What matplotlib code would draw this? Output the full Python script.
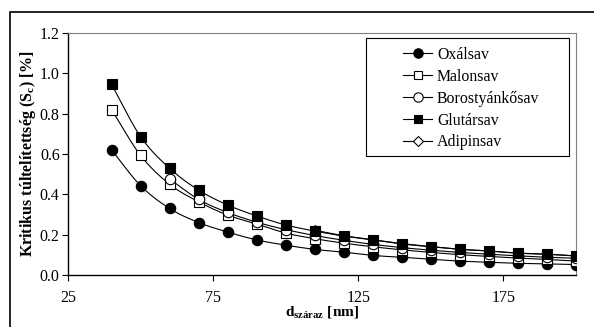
import numpy as np
import matplotlib
matplotlib.use("Agg")
import matplotlib.pyplot as plt
from matplotlib.patches import Rectangle

plt.rcParams['font.family'] = ['Liberation Serif', 'DejaVu Serif']
plt.rcParams['mathtext.fontset'] = 'custom'
plt.rcParams['mathtext.rm'] = 'Liberation Serif'
plt.rcParams['mathtext.bf'] = 'Liberation Serif:bold'

d = [40, 50, 60, 70, 80, 90, 100, 110, 120, 130, 140, 150, 160, 170, 180, 190, 200]
d_boros = d[2:]
d_adip = d[7:]

oxal = [0.62, 0.443, 0.33, 0.26, 0.213, 0.174, 0.148, 0.127, 0.113, 0.097, 0.088,
        0.078, 0.069, 0.063, 0.058, 0.055, 0.052]
malon = [0.82, 0.593, 0.45, 0.363, 0.297, 0.253, 0.208, 0.18, 0.158, 0.14, 0.125,
         0.112, 0.101, 0.092, 0.084, 0.077, 0.069]
boros = [0.476, 0.375, 0.31, 0.262, 0.225, 0.196, 0.172, 0.152, 0.136, 0.123,
         0.112, 0.103, 0.095, 0.088, 0.083]
glut = [0.945, 0.686, 0.529, 0.421, 0.347, 0.293, 0.248, 0.218, 0.193, 0.174, 0.154,
        0.14, 0.127, 0.119, 0.108, 0.103, 0.095]
adip = [0.222, 0.195, 0.175, 0.156, 0.141, 0.128, 0.119, 0.109, 0.103, 0.094]

labels = ["Oxálsav", "Malonsav", "Borostyánkősav", "Glutársav", "Adipinsav"]
x_ticks = [25, 75, 125, 175]
y_ticks = [0.0, 0.2, 0.4, 0.6, 0.8, 1.0, 1.2]


def smooth(x, y, n=12):
    # Catmull-Rom curve through the points, like Excel's smoothed line
    x = np.asarray(x, float)
    y = np.asarray(y, float)
    px = np.concatenate([[2 * x[0] - x[1]], x, [2 * x[-1] - x[-2]]])
    py = np.concatenate([[2 * y[0] - y[1]], y, [2 * y[-1] - y[-2]]])
    xs, ys = [], []
    t = np.linspace(0, 1, n, endpoint=False)
    for i in range(1, len(px) - 2):
        for p, out in ((px, xs), (py, ys)):
            p0, p1, p2, p3 = p[i - 1], p[i], p[i + 1], p[i + 2]
            out.extend(0.5 * (2 * p1 + (-p0 + p2) * t
                              + (2 * p0 - 5 * p1 + 4 * p2 - p3) * t ** 2
                              + (-p0 + 3 * p1 - 3 * p2 + p3) * t ** 3))
    xs.append(x[-1])
    ys.append(y[-1])
    return xs, ys


fig = plt.figure(figsize=(5.94, 3.27), dpi=100)
fig.patches.append(Rectangle((10 / 594, -0.1), 1.0, 0.1 + (327 - 12) / 327,
                             transform=fig.transFigure, fill=False,
                             edgecolor='black', linewidth=1.2))
ax = fig.add_axes([68 / 594, 52 / 327, 508 / 594, 242 / 327])

series = [
    (d, oxal, 'o', 'black', 7.5, 4),
    (d, malon, 's', 'white', 7, 4),
    (d_boros, boros, 'o', 'white', 7.5, 4),
    (d, glut, 's', 'black', 7, 5),
    (d_adip, adip, 'D', 'white', 5.5, 3),
]
for (x, y, m, fc, ms, z), lab in zip(series, labels):
    sx, sy = smooth(x, y)
    ax.plot(sx, sy, color='black', linewidth=0.8, zorder=2)
    ax.plot(x, y, linestyle='none', marker=m, markerfacecolor=fc,
            markeredgecolor='black', markeredgewidth=0.8, markersize=ms, zorder=z)
    ax.plot([], [], color='black', linewidth=0.8, marker=m, markerfacecolor=fc,
            markeredgecolor='black', markeredgewidth=0.8, markersize=ms * 0.9,
            label=lab)

ax.set_xlim(25, 200)
ax.set_ylim(0, 1.2)
ax.set_xticks(x_ticks)
ax.set_yticks(y_ticks)
ax.set_yticklabels([f"{v:.1f}" for v in y_ticks])
ax.tick_params(direction='out', length=4, labelsize=11.5, width=0.8)
ax.tick_params(axis='x', pad=7)
ax.tick_params(axis='y', pad=2)
for s in ('top', 'right'):
    ax.spines[s].set_color('#808080')
for s in ('left', 'bottom'):
    ax.spines[s].set_linewidth(1.0)

ax.set_xlabel(r'$\mathbf{d}_{\mathbf{száraz}}$ [nm]', fontsize=11,
              fontweight='bold', labelpad=-1)
ax.set_ylabel(r'Kritikus túltelítettség (S$_\mathbf{c}$) [%]', fontsize=11.5,
              fontweight='bold', labelpad=1)

# legend box drawn by hand, Excel style with wide padding
ax.add_patch(Rectangle((366 / 594, 1 - 156 / 327), 203 / 594, 118 / 327,
                       transform=fig.transFigure, fill=True, clip_on=False,
                       facecolor='white', edgecolor='black',
                       linewidth=0.8, zorder=5))
leg = ax.legend(loc='upper left', bbox_to_anchor=(403 / 594, 1 - 47 / 327),
                bbox_transform=fig.transFigure, fontsize=11.4, frameon=False,
                handlelength=1.85, labelspacing=0.37, borderpad=0.0,
                handletextpad=0.3, borderaxespad=0.0)
leg.set_zorder(6)

fig.savefig('out.png', dpi=100)
